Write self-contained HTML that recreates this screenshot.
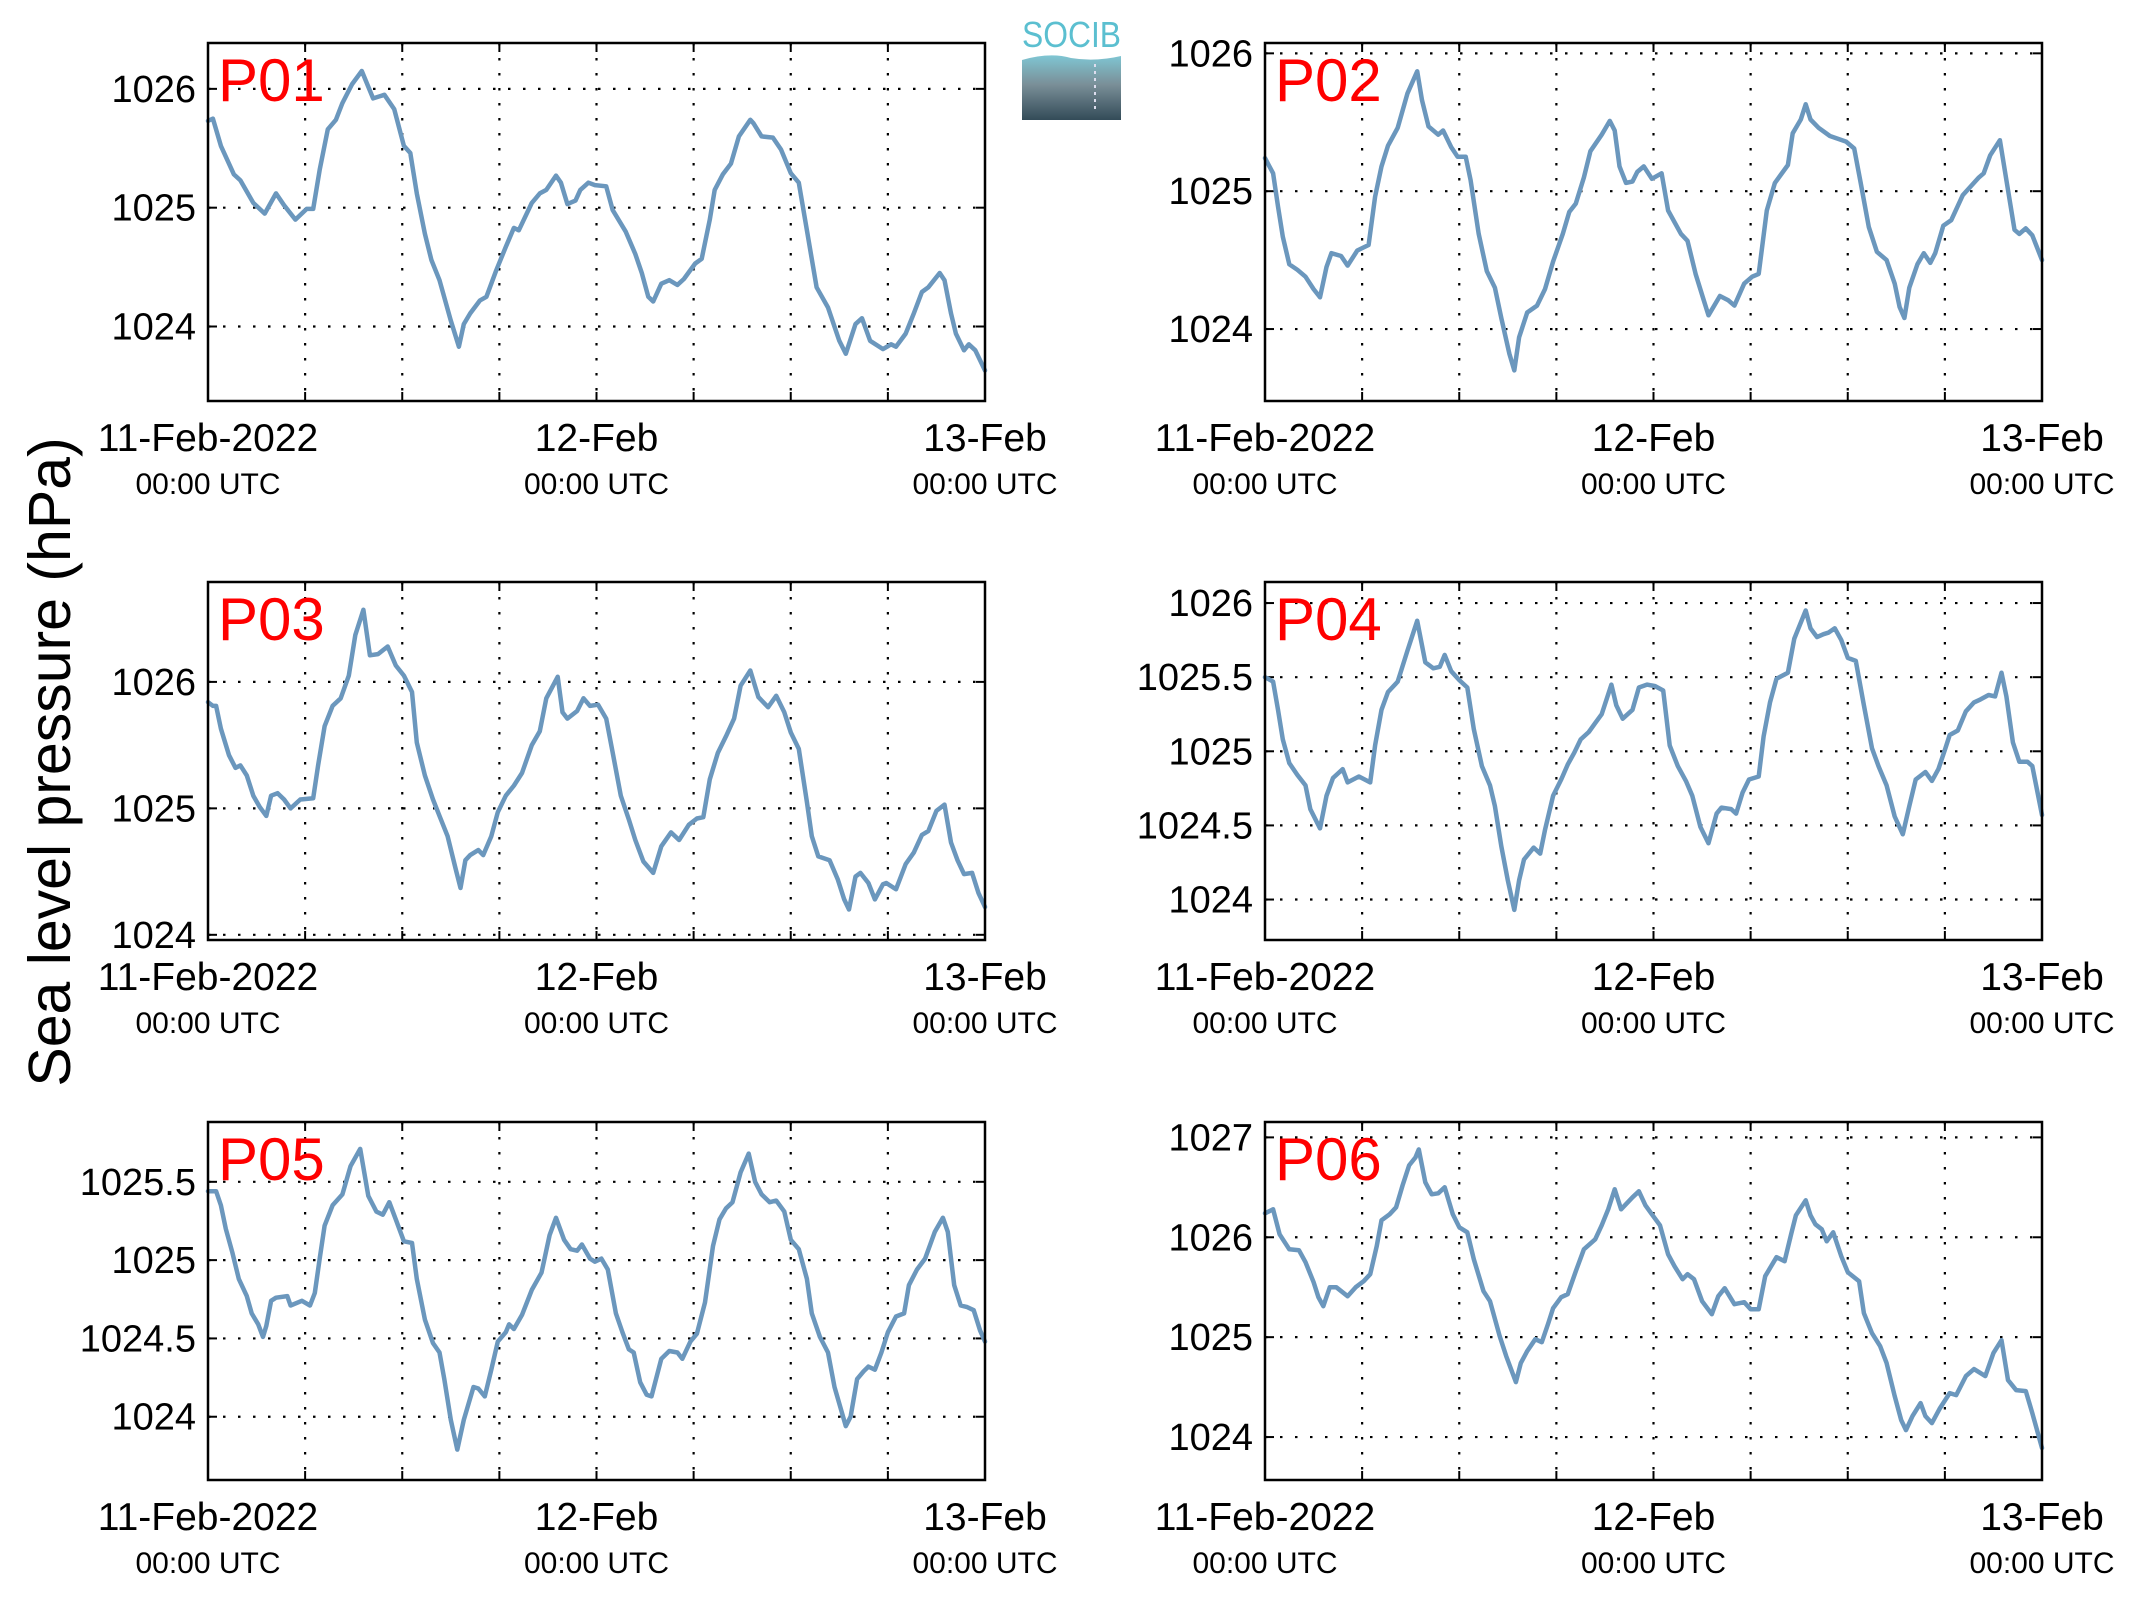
<!DOCTYPE html>
<html><head><meta charset="utf-8">
<style>
html,body{margin:0;padding:0;background:#fff;}
svg{display:block;font-family:"Liberation Sans",Arial,sans-serif;}
</style></head>
<body>
<svg id="fig" width="2133" height="1608" viewBox="0 0 2133 1608" xmlns="http://www.w3.org/2000/svg">
<rect x="0" y="0" width="2133" height="1608" fill="#fff"/>
<text x="0" y="0" transform="translate(70,762) rotate(-90)" text-anchor="middle" font-size="59" fill="#000">Sea level pressure (hPa)</text>
<g>
<defs><linearGradient id="lg" x1="0" y1="0" x2="0" y2="1"><stop offset="0" stop-color="#7fc6d3"/><stop offset="0.45" stop-color="#7a8f98"/><stop offset="1" stop-color="#334b58"/></linearGradient></defs>
<text x="1022" y="47" font-size="36" fill="#5bbfd0" textLength="99" lengthAdjust="spacingAndGlyphs">SOCIB</text>
<path d="M1022 60 Q1050 52 1071 58 Q1095 62 1121 56 L1121 120 L1022 120 Z" fill="url(#lg)"/>
<line x1="1095" y1="64" x2="1095" y2="110" stroke="#dde" stroke-width="2" stroke-dasharray="3 4"/>
</g>
<g id="panels"></g>
</svg>
<script>
const p01Hours=[0,0.3,0.8,1.6,2.0,2.8,3.5,4.2,4.7,5.4,6.1,6.5,6.9,7.4,7.9,8.3,8.9,9.5,10.2,10.9,11.5,12.1,12.5,12.9,13.4,13.8,14.3,15.0,15.5,15.8,16.2,16.8,17.2,17.8,18.4,18.9,19.2,20.0,20.5,20.9,21.5,21.8,22.2,22.7,23.0,23.5,23.9,24.6,25.0,25.8,26.4,26.8,27.2,27.5,28.0,28.5,29.0,29.4,30.1,30.5,31.0,31.3,31.8,32.3,32.8,33.5,33.7,34.2,34.9,35.4,36.0,36.5,37.0,37.6,38.3,39.0,39.4,40.0,40.4,40.9,41.7,42.2,42.5,43.1,43.6,44.1,44.5,45.2,45.5,45.9,46.2,46.7,47.0,47.4,48.0];
const p01Values=[1025.73,1025.75,1025.52,1025.28,1025.23,1025.04,1024.95,1025.12,1025.02,1024.90,1024.99,1024.99,1025.32,1025.66,1025.74,1025.88,1026.04,1026.15,1025.92,1025.95,1025.83,1025.52,1025.46,1025.12,1024.78,1024.56,1024.39,1024.05,1023.83,1024.02,1024.11,1024.22,1024.25,1024.47,1024.67,1024.83,1024.81,1025.04,1025.12,1025.15,1025.27,1025.21,1025.03,1025.06,1025.15,1025.21,1025.19,1025.18,1024.98,1024.80,1024.61,1024.45,1024.25,1024.21,1024.36,1024.39,1024.35,1024.40,1024.53,1024.57,1024.90,1025.15,1025.28,1025.37,1025.60,1025.74,1025.71,1025.60,1025.59,1025.49,1025.29,1025.21,1024.81,1024.33,1024.16,1023.88,1023.77,1024.02,1024.07,1023.88,1023.81,1023.85,1023.83,1023.94,1024.11,1024.29,1024.33,1024.45,1024.39,1024.11,1023.94,1023.80,1023.85,1023.80,1023.63];
const p02Hours=[0,0.5,0.8,1.1,1.5,2.0,2.5,3.0,3.4,3.8,4.1,4.7,5.1,5.7,6.4,6.8,7.2,7.6,8.2,8.8,9.4,9.7,10.1,10.7,11.0,11.5,11.9,12.4,12.7,13.2,13.7,14.2,14.6,15.1,15.4,15.7,16.2,16.8,17.3,17.8,18.4,18.8,19.2,19.7,20.1,20.8,21.3,21.6,21.9,22.3,22.7,23.0,23.4,23.9,24.5,24.9,25.7,26.1,26.6,27.1,27.4,28.1,28.6,29.0,29.6,30.1,30.5,31.0,31.5,32.3,32.6,33.1,33.4,33.7,34.2,34.9,35.9,36.4,36.8,37.3,37.8,38.4,38.9,39.2,39.5,39.8,40.3,40.7,41.1,41.4,41.9,42.4,43.1,44.1,44.4,44.8,45.4,45.8,46.3,46.6,47.0,47.4,48.0];
const p02Values=[1025.24,1025.13,1024.89,1024.67,1024.47,1024.43,1024.38,1024.29,1024.23,1024.45,1024.55,1024.53,1024.46,1024.57,1024.61,1024.96,1025.18,1025.33,1025.46,1025.71,1025.87,1025.66,1025.47,1025.41,1025.44,1025.32,1025.25,1025.25,1025.08,1024.69,1024.42,1024.30,1024.08,1023.82,1023.70,1023.94,1024.12,1024.17,1024.29,1024.49,1024.69,1024.85,1024.91,1025.10,1025.29,1025.41,1025.51,1025.44,1025.18,1025.06,1025.07,1025.14,1025.18,1025.09,1025.13,1024.86,1024.69,1024.64,1024.40,1024.21,1024.10,1024.24,1024.21,1024.17,1024.33,1024.38,1024.40,1024.86,1025.06,1025.19,1025.42,1025.52,1025.63,1025.52,1025.46,1025.40,1025.36,1025.31,1025.06,1024.74,1024.56,1024.50,1024.33,1024.16,1024.08,1024.30,1024.47,1024.55,1024.48,1024.55,1024.75,1024.79,1024.97,1025.10,1025.13,1025.26,1025.37,1025.08,1024.72,1024.69,1024.73,1024.68,1024.50];
const p03Hours=[0,0.3,0.5,0.8,1.3,1.7,2.0,2.4,2.8,3.2,3.6,3.9,4.3,4.7,5.1,5.7,6.5,6.8,7.2,7.7,8.2,8.7,9.1,9.6,10.0,10.5,11.1,11.6,12.1,12.6,12.9,13.4,13.9,14.3,14.8,15.3,15.6,15.9,16.2,16.7,17.0,17.5,17.9,18.4,18.9,19.4,20.0,20.5,20.9,21.6,21.9,22.2,22.8,23.2,23.6,24.1,24.6,25.0,25.5,26.0,26.4,26.9,27.5,28.0,28.6,29.1,29.7,30.2,30.6,31.0,31.5,32.0,32.5,32.9,33.5,34.0,34.6,35.1,35.6,36.0,36.5,37.0,37.3,37.7,38.4,38.9,39.3,39.6,40.0,40.3,40.8,41.2,41.7,41.9,42.5,43.1,43.6,44.1,44.5,45.0,45.5,45.9,46.3,46.7,47.2,47.6,48.0];
const p03Values=[1025.84,1025.81,1025.81,1025.63,1025.42,1025.32,1025.34,1025.26,1025.10,1025.01,1024.94,1025.10,1025.12,1025.07,1025.00,1025.07,1025.08,1025.34,1025.65,1025.81,1025.87,1026.05,1026.37,1026.57,1026.21,1026.22,1026.28,1026.13,1026.05,1025.92,1025.52,1025.26,1025.07,1024.94,1024.78,1024.52,1024.37,1024.59,1024.63,1024.67,1024.63,1024.78,1024.97,1025.10,1025.18,1025.28,1025.50,1025.61,1025.87,1026.04,1025.76,1025.71,1025.77,1025.87,1025.81,1025.82,1025.71,1025.44,1025.10,1024.91,1024.75,1024.58,1024.49,1024.70,1024.81,1024.75,1024.87,1024.92,1024.93,1025.23,1025.44,1025.57,1025.71,1025.97,1026.09,1025.88,1025.80,1025.89,1025.76,1025.60,1025.47,1025.05,1024.78,1024.62,1024.59,1024.44,1024.28,1024.20,1024.46,1024.49,1024.41,1024.28,1024.40,1024.41,1024.36,1024.56,1024.65,1024.79,1024.82,1024.98,1025.03,1024.73,1024.59,1024.48,1024.49,1024.33,1024.22];
const p04Hours=[0,0.5,0.8,1.1,1.5,2.0,2.5,2.8,3.4,3.8,4.2,4.8,5.1,5.8,6.5,6.8,7.2,7.6,8.2,8.8,9.4,9.9,10.4,10.8,11.1,11.5,12.0,12.5,12.9,13.4,13.9,14.2,14.6,15.0,15.4,15.7,16.0,16.6,17.0,17.3,17.8,18.3,18.7,19.1,19.5,20.0,20.4,20.8,21.4,21.7,22.1,22.7,23.1,23.6,24.1,24.6,25.0,25.5,26.0,26.4,26.9,27.4,27.9,28.2,28.8,29.1,29.5,29.9,30.5,30.8,31.2,31.6,32.3,32.7,33.4,33.7,34.1,34.5,34.8,35.2,35.6,36.0,36.5,37.0,37.5,37.9,38.4,38.9,39.4,39.8,40.2,40.8,41.2,41.6,42.0,42.3,42.8,43.3,43.8,44.2,44.7,45.1,45.5,45.8,46.2,46.6,47.1,47.4,48.0];
const p04Values=[1025.50,1025.47,1025.28,1025.08,1024.92,1024.84,1024.77,1024.61,1024.48,1024.70,1024.82,1024.88,1024.79,1024.83,1024.79,1025.04,1025.28,1025.40,1025.47,1025.68,1025.88,1025.60,1025.56,1025.57,1025.65,1025.54,1025.48,1025.43,1025.15,1024.90,1024.77,1024.63,1024.36,1024.13,1023.93,1024.13,1024.27,1024.35,1024.31,1024.47,1024.70,1024.81,1024.91,1024.99,1025.08,1025.13,1025.19,1025.25,1025.45,1025.31,1025.22,1025.28,1025.43,1025.45,1025.44,1025.41,1025.04,1024.90,1024.80,1024.70,1024.49,1024.38,1024.58,1024.62,1024.61,1024.58,1024.72,1024.81,1024.83,1025.10,1025.33,1025.49,1025.53,1025.76,1025.95,1025.83,1025.77,1025.79,1025.80,1025.83,1025.75,1025.63,1025.61,1025.31,1025.02,1024.90,1024.77,1024.56,1024.44,1024.63,1024.81,1024.86,1024.80,1024.88,1025.01,1025.11,1025.14,1025.27,1025.33,1025.35,1025.38,1025.37,1025.53,1025.37,1025.06,1024.93,1024.93,1024.90,1024.57];
const p05Hours=[0,0.5,0.8,1.1,1.5,1.9,2.4,2.7,3.1,3.4,3.6,3.9,4.2,4.9,5.1,5.8,6.3,6.6,6.9,7.2,7.7,8.3,8.8,9.4,9.9,10.4,10.8,11.2,11.6,12.1,12.6,12.9,13.4,13.9,14.3,14.6,15.0,15.4,15.8,16.4,16.7,17.1,17.5,17.9,18.4,18.6,18.9,19.4,20.0,20.6,21.1,21.5,22.0,22.4,22.8,23.1,23.6,23.9,24.3,24.7,25.2,25.6,26.0,26.3,26.7,27.1,27.4,28.0,28.5,29.0,29.3,29.8,30.2,30.7,31.2,31.6,32.0,32.4,32.9,33.4,33.8,34.2,34.7,35.1,35.6,36.0,36.5,37.0,37.3,37.8,38.3,38.7,39.4,39.7,40.1,40.5,40.8,41.2,41.6,42.0,42.5,43.0,43.3,43.8,44.3,44.9,45.4,45.7,46.1,46.5,46.9,47.3,47.7,48.0];
const p05Values=[1025.44,1025.44,1025.35,1025.20,1025.05,1024.88,1024.77,1024.66,1024.59,1024.51,1024.58,1024.74,1024.76,1024.77,1024.71,1024.74,1024.71,1024.79,1025.01,1025.22,1025.35,1025.42,1025.60,1025.71,1025.41,1025.31,1025.29,1025.37,1025.26,1025.12,1025.11,1024.88,1024.62,1024.47,1024.41,1024.24,1023.98,1023.79,1023.98,1024.19,1024.18,1024.13,1024.30,1024.48,1024.54,1024.59,1024.56,1024.65,1024.81,1024.92,1025.16,1025.27,1025.13,1025.07,1025.06,1025.10,1025.01,1024.99,1025.01,1024.94,1024.66,1024.54,1024.43,1024.41,1024.22,1024.14,1024.13,1024.37,1024.42,1024.41,1024.37,1024.48,1024.53,1024.73,1025.09,1025.26,1025.33,1025.37,1025.56,1025.68,1025.50,1025.42,1025.37,1025.38,1025.31,1025.13,1025.07,1024.88,1024.66,1024.51,1024.41,1024.19,1023.94,1024.00,1024.24,1024.29,1024.32,1024.30,1024.41,1024.54,1024.64,1024.66,1024.84,1024.94,1025.01,1025.18,1025.27,1025.18,1024.84,1024.71,1024.70,1024.68,1024.55,1024.48];
const p06Hours=[0,0.5,0.9,1.5,2.1,2.5,3.0,3.3,3.6,4.0,4.4,5.1,5.6,6.1,6.5,6.9,7.2,7.7,8.1,8.5,8.9,9.3,9.5,9.9,10.3,10.7,11.1,11.6,12.0,12.5,12.9,13.5,13.9,14.5,14.9,15.5,15.8,16.2,16.7,17.1,17.5,17.8,18.3,18.7,19.2,19.7,20.4,20.8,21.2,21.6,22.0,22.7,23.1,23.5,23.9,24.4,24.9,25.3,25.8,26.1,26.5,27.0,27.6,28.0,28.4,29.0,29.6,30.0,30.5,30.9,31.6,32.1,32.5,32.8,33.4,33.7,34.0,34.4,34.7,35.1,35.6,36.0,36.7,37.0,37.5,38.0,38.4,38.9,39.3,39.6,40.0,40.5,40.8,41.2,41.7,42.3,42.7,43.3,43.8,44.5,45.0,45.5,45.9,46.4,47.0,47.4,48.0];
const p06Values=[1026.24,1026.28,1026.03,1025.88,1025.87,1025.75,1025.55,1025.40,1025.31,1025.50,1025.50,1025.41,1025.50,1025.56,1025.63,1025.91,1026.17,1026.23,1026.30,1026.52,1026.72,1026.80,1026.88,1026.55,1026.43,1026.44,1026.50,1026.23,1026.10,1026.05,1025.78,1025.46,1025.36,1025.01,1024.81,1024.55,1024.74,1024.86,1024.98,1024.95,1025.14,1025.29,1025.40,1025.43,1025.66,1025.88,1025.98,1026.12,1026.28,1026.48,1026.28,1026.40,1026.46,1026.32,1026.23,1026.12,1025.83,1025.71,1025.58,1025.63,1025.58,1025.36,1025.23,1025.41,1025.49,1025.33,1025.35,1025.28,1025.28,1025.61,1025.80,1025.76,1026.03,1026.22,1026.37,1026.22,1026.13,1026.08,1025.96,1026.05,1025.81,1025.65,1025.56,1025.24,1025.04,1024.91,1024.74,1024.41,1024.17,1024.07,1024.21,1024.34,1024.21,1024.14,1024.29,1024.44,1024.42,1024.61,1024.68,1024.61,1024.84,1024.97,1024.57,1024.47,1024.46,1024.24,1023.89];
const panelNames=["P01","P02","P03","P04","P05","P06"];
const yTickLabels=[["1024","1025","1026"],["1024","1025","1026"],["1024","1025","1026"],["1024","1024.5","1025","1025.5","1026"],["1024","1024.5","1025","1025.5"],["1024","1025","1026","1027"]];
const yRanges=[[1023.373,1026.386],[1023.478,1026.075],[1023.959,1026.79],[1023.727,1026.142],[1023.596,1025.882],[1023.570,1027.154]];
const xTickLabels=["11-Feb-2022","12-Feb","13-Feb"];
const xTickHours=[0,24,48];

const NS="http://www.w3.org/2000/svg";
const hoursArr=[p01Hours,p02Hours,p03Hours,p04Hours,p05Hours,p06Hours];
const valuesArr=[p01Values,p02Values,p03Values,p04Values,p05Values,p06Values];
const colX=[208,1265], rowY=[43,582,1122], W=777, H=358;
const root=document.getElementById('panels');
function mk(tag,attrs,parent){const e=document.createElementNS(NS,tag);for(const k in attrs)e.setAttribute(k,attrs[k]);parent.appendChild(e);return e;}

for(let p=0;p<6;p++){
  const x0=colX[p%2], y0=rowY[Math.floor(p/2)];
  const [ymin,ymax]=yRanges[p];
  const xs=h=>x0+h/48*W;
  const ys=v=>y0+(ymax-v)/(ymax-ymin)*H;
  const g=mk('g',{},root);
  
  
  for(let h=6;h<48;h+=6){
    const l=mk('line',{x1:xs(h),y1:y0,x2:xs(h),y2:y0+H,stroke:'#000','stroke-width':2.2,'stroke-dasharray':'2.5 12.5'},g);
    
    
    mk('line',{x1:xs(h),y1:y0+H,x2:xs(h),y2:y0+H-9,stroke:'#000','stroke-width':2},g);
    mk('line',{x1:xs(h),y1:y0,x2:xs(h),y2:y0+9,stroke:'#000','stroke-width':2},g);
  }
  yTickLabels[p].forEach(lbl=>{
    const v=parseFloat(lbl), y=ys(v);
    const l=mk('line',{x1:x0,y1:y,x2:x0+W,y2:y,stroke:'#000','stroke-width':2.2,'stroke-dasharray':'2.5 12.5'},g);
    
    
    mk('line',{x1:x0,y1:y,x2:x0+9,y2:y,stroke:'#000','stroke-width':2},g);
    mk('line',{x1:x0+W,y1:y,x2:x0+W-9,y2:y,stroke:'#000','stroke-width':2},g);
    const t=mk('text',{x:x0-12,y:y+13,'text-anchor':'end','font-size':38,fill:'#000'},g);
    t.textContent=lbl;
    
    
  });
  xTickLabels.forEach((lbl,i)=>{
    const x=xs(xTickHours[i]);
    const t=mk('text',{x:x,y:y0+H+50,'text-anchor':'middle','font-size':39,fill:'#000'},g);
    t.textContent=lbl;
    
    
    const t2=mk('text',{x:x,y:y0+H+93,'text-anchor':'middle','font-size':30,fill:'#000'},g);
    t2.textContent='00:00 UTC';
    
    
  });
  const hs=hoursArr[p], vs=valuesArr[p];
  let d='';
  for(let i=0;i<hs.length;i++) d+=(i?'L':'M')+xs(hs[i]).toFixed(1)+' '+ys(vs[i]).toFixed(1);
  const path=mk('path',{d:d,fill:'none',stroke:'#6b97bd','stroke-width':4.5,'stroke-linejoin':'round','stroke-linecap':'round'},g);
  
  
  const fr=mk('rect',{x:x0,y:y0,width:W,height:H,fill:'none',stroke:'#000','stroke-width':2.5},g);
  
  
  const tt=mk('text',{x:x0+10,y:y0+58,'font-size':60,fill:'#ff0000'},g);
  tt.textContent=panelNames[p];
  
  
}
</script>
</body></html>
